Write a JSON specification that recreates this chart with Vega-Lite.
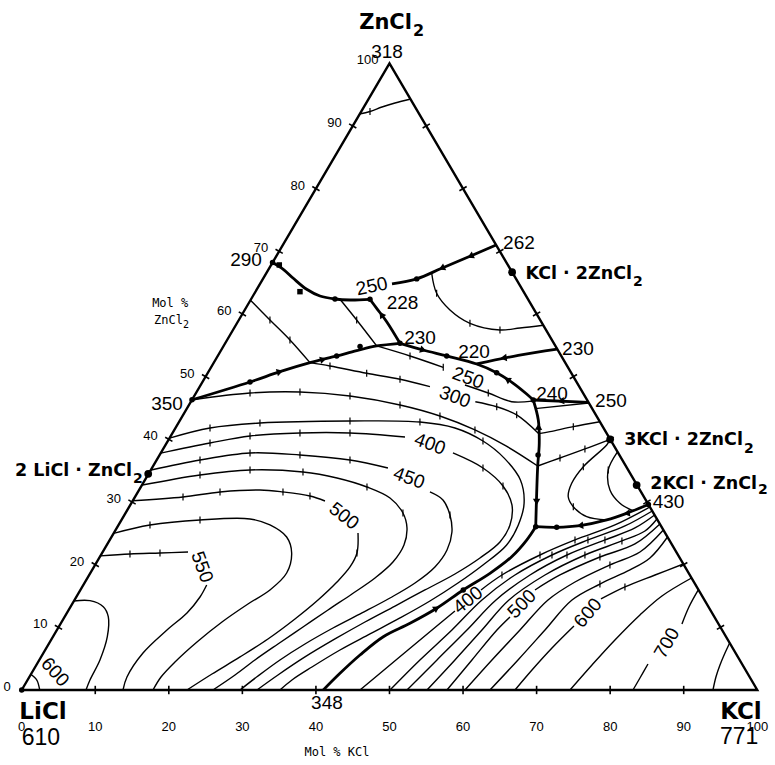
{
  "$schema": "https://vega.github.io/schema/vega-lite/v6.json",
  "width": 775,
  "height": 765,
  "autosize": {"type": "fit", "contains": "padding"},
  "padding": 0,
  "background": "white",
  "config": {"view": {"stroke": null}},
  "datasets": {
    "curves": [
      {"c":"frame","k":"edge","u":0,"z":0},{"c":"frame","k":"edge","u":100,"z":0},{"c":"frame","k":"edge","u":50,"z":100},{"c":"frame","k":"edge","u":0,"z":0},

      {"c":"arcTop","k":"iso","u":45.9,"z":91.9},{"c":"arcTop","k":"iso","u":47.35,"z":92.31},{"c":"arcTop","k":"iso","u":48.98,"z":93.03},{"c":"arcTop","k":"iso","u":50.75,"z":93.67},{"c":"arcTop","k":"iso","u":52.9,"z":94.3},

      {"c":"B1","k":"bd","u":34.1,"z":68.2},{"c":"B1","k":"bd","u":35.56,"z":67.13},{"c":"B1","k":"bd","u":36.92,"z":65.69},{"c":"B1","k":"bd","u":38.74,"z":63.94},{"c":"B1","k":"bd","u":40.55,"z":62.87},{"c":"B1","k":"bd","u":42.59,"z":62.39},{"c":"B1","k":"bd","u":44.63,"z":62.23},{"c":"B1","k":"bd","u":47.35,"z":62.34},
      {"c":"B2","k":"bd","u":50.34,"z":64.79},{"c":"B2","k":"bd","u":53.7,"z":65.6},{"c":"B2","k":"bd","u":57.1,"z":67.3},{"c":"B2","k":"bd","u":60.94,"z":69.2},{"c":"B2","k":"bd","u":64.5,"z":71.0},
      {"c":"B3","k":"bd","u":47.35,"z":62.34},{"c":"B3","k":"bd","u":48.26,"z":60.9},{"c":"B3","k":"bd","u":49.62,"z":58.77},{"c":"B3","k":"bd","u":51.43,"z":55.32},
      {"c":"B4","k":"bd","u":23.15,"z":46.3},{"c":"B4","k":"bd","u":31.04,"z":49.15},{"c":"B4","k":"bd","u":35.11,"z":50.79},{"c":"B4","k":"bd","u":39.19,"z":52.23},{"c":"B4","k":"bd","u":42.82,"z":53.3},{"c":"B4","k":"bd","u":45.54,"z":54.14},{"c":"B4","k":"bd","u":48.26,"z":54.89},{"c":"B4","k":"bd","u":51.43,"z":55.32},
      {"c":"B5","k":"bd","u":51.43,"z":55.32},{"c":"B5","k":"bd","u":54.6,"z":54.25},{"c":"B5","k":"bd","u":57.78,"z":53.3},{"c":"B5","k":"bd","u":61.85,"z":52.02},{"c":"B5","k":"bd","u":64.57,"z":50.63},{"c":"B5","k":"bd","u":66.83,"z":48.94},{"c":"B5","k":"bd","u":68.65,"z":47.23},{"c":"B5","k":"bd","u":69.55,"z":46.27},
      {"c":"B6","k":"bd","u":72.8,"z":54.4},{"c":"B6","k":"bd","u":67.5,"z":53.4},{"c":"B6","k":"bd","u":61.85,"z":52.02},
      {"c":"B7","k":"bd","u":69.55,"z":46.27},{"c":"B7","k":"bd","u":77.05,"z":45.9},
      {"c":"B8","k":"bd","u":69.55,"z":46.27},{"c":"B8","k":"bd","u":70.23,"z":43.08},{"c":"B8","k":"bd","u":70.36,"z":39.37},{"c":"B8","k":"bd","u":70.15,"z":35.74},{"c":"B8","k":"bd","u":70.01,"z":31.39},{"c":"B8","k":"bd","u":69.88,"z":26.06},
      {"c":"B9","k":"bd","u":69.88,"z":26.06},{"c":"B9","k":"bd","u":68.65,"z":23.93},{"c":"B9","k":"bd","u":66.61,"z":21.27},{"c":"B9","k":"bd","u":63.66,"z":18.62},{"c":"B9","k":"bd","u":60.03,"z":15.96},{"c":"B9","k":"bd","u":56.42,"z":13.04},{"c":"B9","k":"bd","u":52.79,"z":10.64},{"c":"B9","k":"bd","u":49.16,"z":8.5},{"c":"B9","k":"bd","u":45.99,"z":5.58},{"c":"B9","k":"bd","u":43.27,"z":2.66},{"c":"B9","k":"bd","u":41.0,"z":0},
      {"c":"B10","k":"bd","u":69.88,"z":26.06},{"c":"B10","k":"bd","u":72.73,"z":25.96},{"c":"B10","k":"bd","u":75.9,"z":26.22},{"c":"B10","k":"bd","u":79.53,"z":27.13},{"c":"B10","k":"bd","u":82.25,"z":28.2},{"c":"B10","k":"bd","u":85.2,"z":29.6},

      {"c":"B7b","k":"iso","u":69.8,"z":44.9},{"c":"B7b","k":"iso","u":77.1,"z":45.8},
      {"c":"T300a","k":"iso","u":31.1,"z":62.2},{"c":"T300a","k":"iso","u":33.75,"z":59.04},{"c":"T300a","k":"iso","u":36.47,"z":55.85},{"c":"T300a","k":"iso","u":39.19,"z":52.23},
      {"c":"T250a","k":"iso","u":43.27,"z":62.35},{"c":"T250a","k":"iso","u":45.54,"z":59.04},{"c":"T250a","k":"iso","u":48.26,"z":54.9},
      {"c":"T250b1","k":"iso","u":48.26,"z":54.9},{"c":"T250b1","k":"iso","u":52.79,"z":53.3},{"c":"T250b1","k":"iso","u":57.31,"z":51.49},
      {"c":"T250b2","k":"iso","u":60.26,"z":48.67},{"c":"T250b2","k":"iso","u":63.43,"z":47.39},{"c":"T250b2","k":"iso","u":66.6,"z":46.0},{"c":"T250b2","k":"iso","u":69.4,"z":46.1},
      {"c":"T300b1","k":"iso","u":39.19,"z":52.23},{"c":"T300b1","k":"iso","u":41.91,"z":51.7},{"c":"T300b1","k":"iso","u":46.9,"z":50.54},{"c":"T300b1","k":"iso","u":51.43,"z":49.58},{"c":"T300b1","k":"iso","u":55.5,"z":48.4},
      {"c":"T300b2","k":"iso","u":61.67,"z":46.0},{"c":"T300b2","k":"iso","u":64.58,"z":45.2},{"c":"T300b2","k":"iso","u":67.29,"z":43.9},{"c":"T300b2","k":"iso","u":70.3,"z":40.9},
      {"c":"T300c","k":"iso","u":70.3,"z":40.9},{"c":"T300c","k":"iso","u":71.82,"z":41.22},{"c":"T300c","k":"iso","u":74.99,"z":42.02},{"c":"T300c","k":"iso","u":78.6,"z":42.8},
      {"c":"T350a","k":"iso","u":23.15,"z":46.3},{"c":"T350a","k":"iso","u":31.04,"z":47.39},{"c":"T350a","k":"iso","u":37.83,"z":47.55},{"c":"T350a","k":"iso","u":44.63,"z":46.91},{"c":"T350a","k":"iso","u":51.43,"z":45.48},{"c":"T350a","k":"iso","u":56.86,"z":43.72},{"c":"T350a","k":"iso","u":61.62,"z":41.49},{"c":"T350a","k":"iso","u":65.84,"z":38.94},{"c":"T350a","k":"iso","u":70.15,"z":35.74},
      {"c":"T350b","k":"iso","u":70.15,"z":35.74},{"c":"T350b","k":"iso","u":73.18,"z":37.02},{"c":"T350b","k":"iso","u":76.57,"z":38.46},{"c":"T350b","k":"iso","u":80.0,"z":40.0},

      {"c":"A","k":"iso","u":20.1,"z":40.2},{"c":"A","k":"iso","u":25.6,"z":41.81},{"c":"A","k":"iso","u":32.39,"z":42.6},{"c":"A","k":"iso","u":44.63,"z":42.92},{"c":"A","k":"iso","u":54.14,"z":42.76},{"c":"A","k":"iso","u":58.9,"z":41.81},{"c":"A","k":"iso","u":62.71,"z":39.73},{"c":"A","k":"iso","u":65.6,"z":37.0},{"c":"A","k":"iso","u":67.8,"z":33.5},{"c":"A","k":"iso","u":68.3,"z":29.8},{"c":"A","k":"iso","u":67.5,"z":26.3},{"c":"A","k":"iso","u":65.9,"z":23.1},{"c":"A","k":"iso","u":62.71,"z":19.95},{"c":"A","k":"iso","u":59.31,"z":17.07},{"c":"A","k":"iso","u":55.5,"z":14.2},{"c":"A","k":"iso","u":51.43,"z":11.49},{"c":"A","k":"iso","u":47.35,"z":8.94},{"c":"A","k":"iso","u":43.27,"z":6.38},{"c":"A","k":"iso","u":39.46,"z":3.67},{"c":"A","k":"iso","u":36.74,"z":1.6},{"c":"A","k":"iso","u":35.11,"z":0},

      {"c":"Ba","k":"iso","u":18.9,"z":37.8},{"c":"Ba","k":"iso","u":25.6,"z":39.41},{"c":"Ba","k":"iso","u":31.04,"z":40.53},{"c":"Ba","k":"iso","u":37.83,"z":41.01},{"c":"Ba","k":"iso","u":44.63,"z":41.01},{"c":"Ba","k":"iso","u":52.11,"z":40.37},
      {"c":"Bb","k":"iso","u":58.63,"z":37.82},{"c":"Bb","k":"iso","u":62.71,"z":35.42},{"c":"Bb","k":"iso","u":65.43,"z":32.55},{"c":"Bb","k":"iso","u":66.65,"z":29.52},{"c":"Bb","k":"iso","u":66.38,"z":26.33},{"c":"Bb","k":"iso","u":65.02,"z":23.62},{"c":"Bb","k":"iso","u":62.3,"z":21.06},{"c":"Bb","k":"iso","u":58.9,"z":18.51},{"c":"Bb","k":"iso","u":54.82,"z":15.96},{"c":"Bb","k":"iso","u":50.75,"z":13.4},{"c":"Bb","k":"iso","u":46.67,"z":10.85},{"c":"Bb","k":"iso","u":42.59,"z":8.14},{"c":"Bb","k":"iso","u":38.51,"z":5.27},{"c":"Bb","k":"iso","u":34.84,"z":2.39},{"c":"Bb","k":"iso","u":31.99,"z":0},

      {"c":"Ca","k":"iso","u":17.6,"z":35.1},{"c":"Ca","k":"iso","u":24.24,"z":36.7},{"c":"Ca","k":"iso","u":31.04,"z":37.82},{"c":"Ca","k":"iso","u":37.83,"z":37.5},{"c":"Ca","k":"iso","u":44.63,"z":36.7},{"c":"Ca","k":"iso","u":49.79,"z":35.42},
      {"c":"Cb","k":"iso","u":55.5,"z":31.6},{"c":"Cb","k":"iso","u":57.27,"z":30.32},{"c":"Cb","k":"iso","u":58.22,"z":27.92},{"c":"Cb","k":"iso","u":58.49,"z":25.21},{"c":"Cb","k":"iso","u":57.82,"z":22.34},{"c":"Cb","k":"iso","u":56.18,"z":19.63},{"c":"Cb","k":"iso","u":53.47,"z":17.07},{"c":"Cb","k":"iso","u":50.07,"z":14.68},{"c":"Cb","k":"iso","u":46.26,"z":12.29},{"c":"Cb","k":"iso","u":42.32,"z":9.89},{"c":"Cb","k":"iso","u":38.51,"z":7.34},{"c":"Cb","k":"iso","u":35.11,"z":4.79},{"c":"Cb","k":"iso","u":32.12,"z":2.23},{"c":"Cb","k":"iso","u":29.68,"z":0},

      {"c":"D","k":"iso","u":16.4,"z":32.7},{"c":"D","k":"iso","u":24.24,"z":34.31},{"c":"D","k":"iso","u":31.04,"z":35.11},{"c":"D","k":"iso","u":38.24,"z":34.79},{"c":"D","k":"iso","u":42.86,"z":33.83},{"c":"D","k":"iso","u":46.94,"z":32.39},{"c":"D","k":"iso","u":50.07,"z":30.64},{"c":"D","k":"iso","u":51.83,"z":28.24},{"c":"D","k":"iso","u":52.38,"z":25.85},{"c":"D","k":"iso","u":51.97,"z":23.14},{"c":"D","k":"iso","u":50.47,"z":20.42},{"c":"D","k":"iso","u":48.03,"z":17.87},{"c":"D","k":"iso","u":44.9,"z":15.32},{"c":"D","k":"iso","u":41.64,"z":12.77},{"c":"D","k":"iso","u":38.24,"z":10.05},{"c":"D","k":"iso","u":34.84,"z":7.34},{"c":"D","k":"iso","u":31.71,"z":4.79},{"c":"D","k":"iso","u":29.0,"z":2.39},{"c":"D","k":"iso","u":26.0,"z":0},

      {"c":"Ea","k":"iso","u":15.1,"z":30.2},{"c":"Ea","k":"iso","u":21.93,"z":30.8},{"c":"Ea","k":"iso","u":26.96,"z":31.6},{"c":"Ea","k":"iso","u":32.39,"z":31.91},{"c":"Ea","k":"iso","u":35.52,"z":31.6},{"c":"Ea","k":"iso","u":39.19,"z":30.96},{"c":"Ea","k":"iso","u":41.23,"z":30.16},
      {"c":"Eb","k":"iso","u":45.72,"z":25.05},{"c":"Eb","k":"iso","u":45.58,"z":21.86},{"c":"Eb","k":"iso","u":44.63,"z":19.63},{"c":"Eb","k":"iso","u":42.86,"z":17.23},{"c":"Eb","k":"iso","u":40.28,"z":14.36},{"c":"Eb","k":"iso","u":37.15,"z":11.33},{"c":"Eb","k":"iso","u":33.48,"z":8.14},{"c":"Eb","k":"iso","u":29.68,"z":5.27},{"c":"Eb","k":"iso","u":25.87,"z":2.55},{"c":"Eb","k":"iso","u":22.47,"z":0},

      {"c":"F","k":"iso","u":12.5,"z":25.0},{"c":"F","k":"iso","u":17.44,"z":26.33},{"c":"F","k":"iso","u":24.24,"z":27.13},{"c":"F","k":"iso","u":31.04,"z":27.29},{"c":"F","k":"iso","u":33.75,"z":26.33},{"c":"F","k":"iso","u":36.02,"z":24.41},{"c":"F","k":"iso","u":36.7,"z":21.86},{"c":"F","k":"iso","u":36.02,"z":18.67},{"c":"F","k":"iso","u":33.75,"z":15.96},{"c":"F","k":"iso","u":30.76,"z":13.72},{"c":"F","k":"iso","u":27.23,"z":10.85},{"c":"F","k":"iso","u":23.83,"z":7.66},{"c":"F","k":"iso","u":20.84,"z":4.47},{"c":"F","k":"iso","u":18.94,"z":2.07},{"c":"F","k":"iso","u":17.85,"z":0},

      {"c":"Ga","k":"iso","u":10.7,"z":21.4},{"c":"Ga","k":"iso","u":14.72,"z":21.7},{"c":"Ga","k":"iso","u":18.8,"z":21.86},{"c":"Ga","k":"iso","u":22.61,"z":22.02},
      {"c":"Gb","k":"iso","u":25.15,"z":16.75},{"c":"Gb","k":"iso","u":24.24,"z":14.84},{"c":"Gb","k":"iso","u":22.47,"z":12.29},{"c":"Gb","k":"iso","u":19.75,"z":9.57},{"c":"Gb","k":"iso","u":16.49,"z":5.9},{"c":"Gb","k":"iso","u":14.31,"z":2.07},{"c":"Gb","k":"iso","u":13.77,"z":0},
      {"c":"H","k":"iso","u":7.1,"z":14.2},{"c":"H","k":"iso","u":9.28,"z":14.25},{"c":"H","k":"iso","u":11.09,"z":13.29},{"c":"H","k":"iso","u":11.77,"z":11.7},{"c":"H","k":"iso","u":11.64,"z":8.5},{"c":"H","k":"iso","u":10.64,"z":4.79},{"c":"H","k":"iso","u":9.28,"z":1.6},{"c":"H","k":"iso","u":8.74,"z":0},
      {"c":"Arc600","k":"iso","u":1.24,"z":2.49},{"c":"Arc600","k":"iso","u":1.73,"z":2.03},{"c":"Arc600","k":"iso","u":2.12,"z":1.44},{"c":"Arc600","k":"iso","u":2.45,"z":0},

      {"c":"KZ","k":"iso","u":55.74,"z":66.5},{"c":"KZ","k":"iso","u":56.41,"z":63.3},{"c":"KZ","k":"iso","u":58.22,"z":60.64},{"c":"KZ","k":"iso","u":60.94,"z":58.51},{"c":"KZ","k":"iso","u":65.02,"z":57.45},{"c":"KZ","k":"iso","u":67.74,"z":57.76},{"c":"KZ","k":"iso","u":70.9,"z":58.2},
      {"c":"U1","k":"iso","u":80.0,"z":40.0},{"c":"U1","k":"iso","u":79.53,"z":39.1},{"c":"U1","k":"iso","u":76.35,"z":35.63},{"c":"U1","k":"iso","u":74.77,"z":32.98},{"c":"U1","k":"iso","u":74.3,"z":30.84},{"c":"U1","k":"iso","u":74.99,"z":29.25},{"c":"U1","k":"iso","u":76.81,"z":27.65},{"c":"U1","k":"iso","u":79.53,"z":27.13},
      {"c":"U2","k":"iso","u":81.0,"z":38.0},{"c":"U2","k":"iso","u":79.74,"z":35.11},{"c":"U2","k":"iso","u":79.97,"z":31.91},{"c":"U2","k":"iso","u":81.33,"z":29.79},{"c":"U2","k":"iso","u":83.1,"z":28.6},

      {"c":"K1a","k":"iso","u":45.99,"z":0},{"c":"K1a","k":"iso","u":50.88,"z":4.79},{"c":"K1a","k":"iso","u":55.78,"z":9.57},{"c":"K1a","k":"iso","u":58.9,"z":12.61},
      {"c":"K1b","k":"iso","u":62.44,"z":15.96},{"c":"K1b","k":"iso","u":65.29,"z":18.35},{"c":"K1b","k":"iso","u":70.46,"z":21.54},{"c":"K1b","k":"iso","u":75.22,"z":23.94},{"c":"K1b","k":"iso","u":80.65,"z":26.33},{"c":"K1b","k":"iso","u":85.41,"z":29.2},
      {"c":"K2","k":"iso","u":50.07,"z":0},{"c":"K2","k":"iso","u":54.14,"z":4.79},{"c":"K2","k":"iso","u":58.49,"z":9.57},{"c":"K2","k":"iso","u":62.57,"z":14.36},{"c":"K2","k":"iso","u":67.06,"z":18.35},{"c":"K2","k":"iso","u":72.09,"z":21.54},{"c":"K2","k":"iso","u":76.98,"z":23.94},{"c":"K2","k":"iso","u":82.01,"z":26.17},{"c":"K2","k":"iso","u":85.72,"z":28.56},
      {"c":"K3","k":"iso","u":52.38,"z":0},{"c":"K3","k":"iso","u":56.46,"z":4.79},{"c":"K3","k":"iso","u":60.53,"z":9.57},{"c":"K3","k":"iso","u":64.48,"z":14.36},{"c":"K3","k":"iso","u":69.1,"z":18.35},{"c":"K3","k":"iso","u":74.13,"z":21.54},{"c":"K3","k":"iso","u":79.29,"z":23.94},{"c":"K3","k":"iso","u":83.37,"z":25.85},{"c":"K3","k":"iso","u":86.04,"z":27.92},
      {"c":"K4","k":"iso","u":55.1,"z":0},{"c":"K4","k":"iso","u":58.9,"z":4.79},{"c":"K4","k":"iso","u":62.57,"z":9.57},{"c":"K4","k":"iso","u":66.24,"z":14.36},{"c":"K4","k":"iso","u":71.14,"z":18.35},{"c":"K4","k":"iso","u":76.57,"z":21.54},{"c":"K4","k":"iso","u":81.6,"z":23.78},{"c":"K4","k":"iso","u":84.73,"z":25.37},{"c":"K4","k":"iso","u":86.36,"z":27.29},
      {"c":"K5a","k":"iso","u":57.81,"z":0},{"c":"K5a","k":"iso","u":61.21,"z":4.79},{"c":"K5a","k":"iso","u":64.61,"z":9.57},{"c":"K5a","k":"iso","u":66.38,"z":11.65},
      {"c":"K5b","k":"iso","u":69.78,"z":15.96},{"c":"K5b","k":"iso","u":73.18,"z":18.35},{"c":"K5b","k":"iso","u":78.61,"z":21.22},{"c":"K5b","k":"iso","u":83.37,"z":23.3},{"c":"K5b","k":"iso","u":86.76,"z":26.49},
      {"c":"K6","k":"iso","u":60.26,"z":0},{"c":"K6","k":"iso","u":63.93,"z":4.79},{"c":"K6","k":"iso","u":67.74,"z":9.57},{"c":"K6","k":"iso","u":71.55,"z":14.36},{"c":"K6","k":"iso","u":75.22,"z":17.23},{"c":"K6","k":"iso","u":79.97,"z":19.95},{"c":"K6","k":"iso","u":84.05,"z":22.02},{"c":"K6","k":"iso","u":87.23,"z":25.53},
      {"c":"K7","k":"iso","u":63.66,"z":0},{"c":"K7","k":"iso","u":67.47,"z":4.79},{"c":"K7","k":"iso","u":71.14,"z":9.57},{"c":"K7","k":"iso","u":74.81,"z":14.36},{"c":"K7","k":"iso","u":78.61,"z":16.91},{"c":"K7","k":"iso","u":82.69,"z":19.15},{"c":"K7","k":"iso","u":85.41,"z":21.06},{"c":"K7","k":"iso","u":87.8,"z":24.41},
      {"c":"K8a","k":"iso","u":67.06,"z":0},{"c":"K8a","k":"iso","u":69.37,"z":3.19},{"c":"K8a","k":"iso","u":72.09,"z":6.7},{"c":"K8a","k":"iso","u":75.08,"z":10.21},
      {"c":"K8b","k":"iso","u":78.75,"z":14.52},{"c":"K8b","k":"iso","u":82.01,"z":16.44},{"c":"K8b","k":"iso","u":86.1,"z":18.35},{"c":"K8b","k":"iso","u":89.95,"z":20.1},
      {"c":"K9","k":"iso","u":74.54,"z":0},{"c":"K9","k":"iso","u":77.53,"z":3.99},{"c":"K9","k":"iso","u":80.65,"z":7.98},{"c":"K9","k":"iso","u":84.05,"z":11.97},{"c":"K9","k":"iso","u":87.04,"z":15.0},{"c":"K9","k":"iso","u":91.06,"z":17.87},
      {"c":"K10a","k":"iso","u":83.1,"z":0},{"c":"K10a","k":"iso","u":84.05,"z":1.91},{"c":"K10a","k":"iso","u":85.14,"z":4.15},
      {"c":"K10b","k":"iso","u":89.76,"z":10.53},{"c":"K10b","k":"iso","u":90.71,"z":13.24},{"c":"K10b","k":"iso","u":92.0,"z":16.0},
      {"c":"K11","k":"iso","u":93.98,"z":0},{"c":"K11","k":"iso","u":94.38,"z":2.07},{"c":"K11","k":"iso","u":94.93,"z":3.99},{"c":"K11","k":"iso","u":95.61,"z":5.9},{"c":"K11","k":"iso","u":96.25,"z":7.5}
    ],
    "edgeTicks": [
      {"e":"b","u":10,"z":0},{"e":"b","u":20,"z":0},{"e":"b","u":30,"z":0},{"e":"b","u":40,"z":0},{"e":"b","u":50,"z":0},{"e":"b","u":60,"z":0},{"e":"b","u":70,"z":0},{"e":"b","u":80,"z":0},{"e":"b","u":90,"z":0},
      {"e":"l","u":5,"z":10},{"e":"l","u":10,"z":20},{"e":"l","u":15,"z":30},{"e":"l","u":20,"z":40},{"e":"l","u":25,"z":50},{"e":"l","u":30,"z":60},{"e":"l","u":35,"z":70},{"e":"l","u":40,"z":80},{"e":"l","u":45,"z":90},
      {"e":"r","u":95,"z":10},{"e":"r","u":90,"z":20},{"e":"r","u":85,"z":30},{"e":"r","u":80,"z":40},{"e":"r","u":75,"z":50},{"e":"r","u":70,"z":60},{"e":"r","u":65,"z":70},{"e":"r","u":60,"z":80},{"e":"r","u":55,"z":90}
    ],
    "curveTicks": [
      {"u":33.75,"z":59.04},{"u":36.47,"z":55.85},{"u":45.54,"z":59.04},{"u":52.79,"z":53.3},{"u":57.31,"z":51.49},{"u":63.43,"z":47.39},
      {"u":41.91,"z":51.7},{"u":46.9,"z":50.54},{"u":51.43,"z":49.58},{"u":64.58,"z":45.2},{"u":67.29,"z":43.9},{"u":74.99,"z":42.02},
      {"u":31.04,"z":47.39},{"u":37.83,"z":47.55},{"u":44.63,"z":46.91},{"u":51.43,"z":45.48},{"u":56.86,"z":43.72},{"u":61.62,"z":41.49},{"u":73.18,"z":37.02},{"u":76.57,"z":38.46},
      {"u":25.6,"z":41.81},{"u":32.39,"z":42.6},{"u":44.63,"z":42.92},{"u":54.14,"z":42.76},{"u":62.71,"z":39.73},
      {"u":25.6,"z":39.41},{"u":31.04,"z":40.53},{"u":37.83,"z":41.01},{"u":44.63,"z":41.01},{"u":62.71,"z":35.42},{"u":65.43,"z":32.55},
      {"u":24.24,"z":36.7},{"u":31.04,"z":37.82},{"u":37.83,"z":37.5},{"u":44.63,"z":36.7},{"u":58.22,"z":27.92},
      {"u":24.24,"z":34.31},{"u":31.04,"z":35.11},{"u":38.24,"z":34.79},{"u":46.94,"z":32.39},{"u":51.83,"z":28.24},
      {"u":21.93,"z":30.8},{"u":26.96,"z":31.6},{"u":35.52,"z":31.6},{"u":39.19,"z":30.96},{"u":45.58,"z":21.86},
      {"u":17.44,"z":26.33},{"u":24.24,"z":27.13},{"u":14.72,"z":21.7},{"u":18.8,"z":21.86},
      {"u":56.41,"z":63.3},{"u":60.94,"z":58.51},{"u":65.02,"z":57.45},
      {"u":76.35,"z":35.63},{"u":74.99,"z":29.25},{"u":79.74,"z":35.11},
      {"u":65.29,"z":18.35},{"u":70.46,"z":21.54},{"u":75.22,"z":23.94},{"u":72.09,"z":21.54},{"u":76.98,"z":23.94},{"u":74.13,"z":21.54},{"u":79.29,"z":23.94},{"u":76.57,"z":21.54},{"u":81.6,"z":23.78},{"u":78.61,"z":21.22},{"u":79.97,"z":19.95},{"u":78.61,"z":16.91},{"u":82.01,"z":16.44},
      {"u":47.35,"z":92.31}
    ],
    "dots": [
      {"k":"big","u":17.2,"z":34.5},{"k":"big","u":66.67,"z":66.67},{"k":"big","u":80,"z":40},{"k":"big","u":83.6,"z":32.7},
      {"k":"small","u":34.1,"z":68.2},{"k":"small","u":47.35,"z":62.34},{"k":"small","u":23.15,"z":46.3},{"k":"small","u":51.43,"z":55.32},{"k":"small","u":57.78,"z":53.3},{"k":"small","u":69.55,"z":46.27},{"k":"small","u":69.88,"z":26.06},{"k":"small","u":85.2,"z":29.6},{"k":"small","u":60.03,"z":15.96},{"k":"small","u":0,"z":0},{"k":"small","u":42.59,"z":62.39},{"k":"small","u":31.04,"z":49.15},{"k":"small","u":42.82,"z":53.3},{"k":"small","u":64.57,"z":50.63},{"k":"small","u":70.2,"z":37.5},{"k":"small","u":72.73,"z":25.96},{"k":"small","u":53.7,"z":65.6},{"k":"small","u":46.0,"z":54.8},
      {"k":"sq","u":35.02,"z":67.82},{"k":"sq","u":37.83,"z":63.56}
    ],
    "arrows": [
      {"id":"a1","u":57.1,"z":67.3},{"id":"a2","u":61.0,"z":69.2},{"id":"a3","u":48.9,"z":59.9},{"id":"a4","u":41.0,"z":52.76},{"id":"a5","u":35.11,"z":50.79},{"id":"a6","u":54.6,"z":54.25},{"id":"a7","u":66.0,"z":49.56},{"id":"a8","u":65.5,"z":53.0},{"id":"a9","u":73.3,"z":46.1},{"id":"a10","u":70.27,"z":42.0},{"id":"a11","u":70.0,"z":30.0},{"id":"a12","u":56.42,"z":13.04},{"id":"a13","u":75.9,"z":26.22},{"id":"a14","u":82.25,"z":28.2}
    ],
    "labels": [
      {"k":"title","u":53.06,"z":106.45,"t":"ZnCl"},
      {"k":"titleSub","u":53.06,"z":105.16,"t":"2"},
      {"k":"corner","u":2.9,"z":-3.51,"t":"LiCl"},{"k":"corner","u":97.78,"z":-3.51,"t":"KCl"},
      {"k":"cornerT","u":2.62,"z":-7.66,"t":"610"},{"k":"cornerT","u":97.53,"z":-7.5,"t":"771"},
      {"k":"temp","u":49.66,"z":101.8,"t":"318"},{"k":"temp","u":41.5,"z":-2.07,"t":"348"},
      {"k":"temp","u":67.6,"z":71.33,"t":"262"},{"k":"temp","u":51.77,"z":61.68,"t":"228"},{"k":"temp","u":54.15,"z":56.17,"t":"230"},{"k":"temp","u":61.49,"z":53.93,"t":"220"},{"k":"temp","u":75.62,"z":54.41,"t":"230"},{"k":"temp","u":72.09,"z":47.23,"t":"240"},{"k":"temp","u":80.11,"z":46.12,"t":"250"},{"k":"temp","u":87.93,"z":29.92,"t":"430"},{"k":"temp","u":30.49,"z":68.62,"t":"290"},{"k":"temp","u":19.75,"z":45.64,"t":"350"},
      {"k":"cmp","u":82.97,"z":66.38,"t":"KCl · 2ZnCl"},{"k":"cmpSub","u":82.97,"z":65.11,"t":"2"},
      {"k":"cmp","u":98.05,"z":39.89,"t":"3KCl · 2ZnCl"},{"k":"cmpSub","u":98.05,"z":38.46,"t":"2"},
      {"k":"cmp","u":99.96,"z":32.87,"t":"2KCl · ZnCl"},{"k":"cmpSub","u":99.96,"z":31.91,"t":"2"},
      {"k":"cmp","u":15.01,"z":34.87,"t":"2 LiCl · ZnCl"},{"k":"cmpSub","u":15.01,"z":33.67,"t":"2"},
      {"k":"mol","u":20.19,"z":61.75,"t":"Mol %"},{"k":"mol","u":42.86,"z":-9.89,"t":"Mol % KCl"},
      {"k":"molR","u":21.93,"z":59.04,"t":"ZnCl"},{"k":"molSub","u":21.93,"z":58.24,"t":"2"},
      {"k":"tb","u":0,"z":0,"t":"0"},{"k":"tb","u":10,"z":0,"t":"10"},{"k":"tb","u":20,"z":0,"t":"20"},{"k":"tb","u":30,"z":0,"t":"30"},{"k":"tb","u":40,"z":0,"t":"40"},{"k":"tb","u":50,"z":0,"t":"50"},{"k":"tb","u":60,"z":0,"t":"60"},{"k":"tb","u":70,"z":0,"t":"70"},{"k":"tb","u":80,"z":0,"t":"80"},{"k":"tb","u":90,"z":0,"t":"90"},{"k":"tb","u":100,"z":0,"t":"100"},
      {"k":"tl","u":0,"z":0,"t":"0"},{"k":"tl","u":5,"z":10,"t":"10"},{"k":"tl","u":10,"z":20,"t":"20"},{"k":"tl","u":15,"z":30,"t":"30"},{"k":"tl","u":20,"z":40,"t":"40"},{"k":"tl","u":25,"z":50,"t":"50"},{"k":"tl","u":30,"z":60,"t":"60"},{"k":"tl","u":35,"z":70,"t":"70"},{"k":"tl","u":40,"z":80,"t":"80"},{"k":"tl","u":45,"z":90,"t":"90"},{"k":"tl","u":50,"z":100,"t":"100"}
    ],
    "isoLabels": [
      {"id":"i250b","u":47.6,"z":64.4,"t":"250"},
      {"id":"i250","u":60.67,"z":49.79,"t":"250"},
      {"id":"i300","u":58.9,"z":46.75,"t":"300"},
      {"id":"i400","u":55.5,"z":39.25,"t":"400"},
      {"id":"i450","u":52.65,"z":33.83,"t":"450"},
      {"id":"i500","u":43.81,"z":27.77,"t":"500"},
      {"id":"i550","u":24.51,"z":19.63,"t":"550"},
      {"id":"i600","u":4.53,"z":2.87,"t":"600"},
      {"id":"k400","u":60.67,"z":14.36,"t":"400"},
      {"id":"k500","u":68.0,"z":13.72,"t":"500"},
      {"id":"k600","u":76.98,"z":12.29,"t":"600"},
      {"id":"k700","u":87.72,"z":7.5,"t":"700"}
    ]
  },
  "encoding": {
    "x": {"field": "u", "type": "quantitative", "scale": {"domain": [-2.95, 102.41], "nice": false, "zero": false}, "axis": null},
    "y": {"field": "z", "type": "quantitative", "scale": {"domain": [-11.97, 110.1], "nice": false, "zero": false}, "axis": null}
  },
  "layer": [
    {
      "data": {"name": "curves"},
      "transform": [{"filter": "datum.k === 'iso'"}, {"window": [{"op": "row_number", "as": "i"}], "groupby": ["c"]}],
      "mark": {"type": "line", "interpolate": "catmull-rom", "stroke": "black", "strokeWidth": 1.4},
      "encoding": {"detail": {"field": "c"}, "order": {"field": "i", "type": "quantitative"}}
    },
    {
      "data": {"name": "curves"},
      "transform": [{"filter": "datum.k === 'bd'"}, {"window": [{"op": "row_number", "as": "i"}], "groupby": ["c"]}],
      "mark": {"type": "line", "interpolate": "catmull-rom", "stroke": "black", "strokeWidth": 2.8},
      "encoding": {"detail": {"field": "c"}, "order": {"field": "i", "type": "quantitative"}}
    },
    {
      "data": {"name": "curves"},
      "transform": [{"filter": "datum.k === 'edge'"}, {"window": [{"op": "row_number", "as": "i"}], "groupby": ["c"]}],
      "mark": {"type": "line", "stroke": "black", "strokeWidth": 2.4, "strokeJoin": "miter"},
      "encoding": {"detail": {"field": "c"}, "order": {"field": "i", "type": "quantitative"}}
    },
    {"data": {"name": "edgeTicks"}, "transform": [{"filter": "datum.e === 'b'"}],
     "mark": {"type": "point", "shape": "stroke", "size": 70, "angle": 90, "stroke": "black", "strokeWidth": 1.6, "opacity": 1}},
    {"data": {"name": "edgeTicks"}, "transform": [{"filter": "datum.e === 'l'"}],
     "mark": {"type": "point", "shape": "stroke", "size": 70, "angle": 30, "stroke": "black", "strokeWidth": 1.6, "opacity": 1}},
    {"data": {"name": "edgeTicks"}, "transform": [{"filter": "datum.e === 'r'"}],
     "mark": {"type": "point", "shape": "stroke", "size": 70, "angle": -30, "stroke": "black", "strokeWidth": 1.6, "opacity": 1}},
    {"data": {"name": "curveTicks"},
     "mark": {"type": "point", "shape": "stroke", "size": 49, "angle": 90, "stroke": "black", "strokeWidth": 1.2, "opacity": 1}},
    {"data": {"name": "dots"}, "transform": [{"filter": "datum.k === 'big'"}],
     "mark": {"type": "point", "shape": "circle", "filled": true, "size": 60, "color": "black", "opacity": 1}},
    {"data": {"name": "dots"}, "transform": [{"filter": "datum.k === 'small'"}],
     "mark": {"type": "point", "shape": "circle", "filled": true, "size": 30, "color": "black", "opacity": 1}},
    {"data": {"name": "dots"}, "transform": [{"filter": "datum.k === 'sq'"}],
     "mark": {"type": "point", "shape": "square", "filled": true, "size": 30, "color": "black", "opacity": 1}},

    {"data": {"name": "arrows"}, "transform": [{"filter": "indexof(['a1','a2'], datum.id) >= 0"}],
     "mark": {"type": "point", "shape": "triangle-right", "filled": true, "size": 55, "color": "black", "opacity": 1, "angle": 155}},
    {"data": {"name": "arrows"}, "transform": [{"filter": "datum.id === 'a3'"}],
     "mark": {"type": "point", "shape": "triangle-right", "filled": true, "size": 55, "color": "black", "opacity": 1, "angle": 235}},
    {"data": {"name": "arrows"}, "transform": [{"filter": "indexof(['a4','a5'], datum.id) >= 0"}],
     "mark": {"type": "point", "shape": "triangle-right", "filled": true, "size": 55, "color": "black", "opacity": 1, "angle": 344}},
    {"data": {"name": "arrows"}, "transform": [{"filter": "datum.id === 'a6'"}],
     "mark": {"type": "point", "shape": "triangle-right", "filled": true, "size": 55, "color": "black", "opacity": 1, "angle": 16}},
    {"data": {"name": "arrows"}, "transform": [{"filter": "datum.id === 'a7'"}],
     "mark": {"type": "point", "shape": "triangle-right", "filled": true, "size": 55, "color": "black", "opacity": 1, "angle": 213}},
    {"data": {"name": "arrows"}, "transform": [{"filter": "indexof(['a8','a9','a13','a14'], datum.id) >= 0"}],
     "mark": {"type": "point", "shape": "triangle-right", "filled": true, "size": 55, "color": "black", "opacity": 1, "angle": 173}},
    {"data": {"name": "arrows"}, "transform": [{"filter": "datum.id === 'a10'"}],
     "mark": {"type": "point", "shape": "triangle-right", "filled": true, "size": 55, "color": "black", "opacity": 1, "angle": 272}},
    {"data": {"name": "arrows"}, "transform": [{"filter": "datum.id === 'a11'"}],
     "mark": {"type": "point", "shape": "triangle-right", "filled": true, "size": 55, "color": "black", "opacity": 1, "angle": 90}},
    {"data": {"name": "arrows"}, "transform": [{"filter": "datum.id === 'a12'"}],
     "mark": {"type": "point", "shape": "triangle-right", "filled": true, "size": 55, "color": "black", "opacity": 1, "angle": 328}},

    {"data": {"name": "labels"}, "transform": [{"filter": "datum.k === 'title'"}],
     "mark": {"type": "text", "font": "DejaVu Sans", "fontSize": 21, "fontWeight": "bold", "baseline": "middle", "align": "right"},
     "encoding": {"text": {"field": "t"}}},
    {"data": {"name": "labels"}, "transform": [{"filter": "datum.k === 'titleSub'"}],
     "mark": {"type": "text", "font": "DejaVu Sans", "fontSize": 16, "fontWeight": "bold", "baseline": "middle", "align": "left", "dx": 1},
     "encoding": {"text": {"field": "t"}}},
    {"data": {"name": "labels"}, "transform": [{"filter": "datum.k === 'corner'"}],
     "mark": {"type": "text", "font": "DejaVu Sans", "fontSize": 23, "fontWeight": "bold", "baseline": "middle", "align": "center"},
     "encoding": {"text": {"field": "t"}}},
    {"data": {"name": "labels"}, "transform": [{"filter": "datum.k === 'cornerT'"}],
     "mark": {"type": "text", "font": "Liberation Sans", "fontSize": 23, "baseline": "middle", "align": "center"},
     "encoding": {"text": {"field": "t"}}},
    {"data": {"name": "labels"}, "transform": [{"filter": "datum.k === 'temp'"}],
     "mark": {"type": "text", "font": "Liberation Sans", "fontSize": 19, "baseline": "middle", "align": "center"},
     "encoding": {"text": {"field": "t"}}},
    {"data": {"name": "labels"}, "transform": [{"filter": "datum.k === 'cmp'"}],
     "mark": {"type": "text", "font": "DejaVu Sans", "fontSize": 17.5, "fontWeight": "bold", "baseline": "middle", "align": "right"},
     "encoding": {"text": {"field": "t"}}},
    {"data": {"name": "labels"}, "transform": [{"filter": "datum.k === 'cmpSub'"}],
     "mark": {"type": "text", "font": "DejaVu Sans", "fontSize": 14, "fontWeight": "bold", "baseline": "middle", "align": "left", "dx": 1},
     "encoding": {"text": {"field": "t"}}},
    {"data": {"name": "labels"}, "transform": [{"filter": "datum.k === 'mol'"}],
     "mark": {"type": "text", "font": "DejaVu Sans Mono", "fontSize": 12, "baseline": "middle", "align": "center"},
     "encoding": {"text": {"field": "t"}}},
    {"data": {"name": "labels"}, "transform": [{"filter": "datum.k === 'molR'"}],
     "mark": {"type": "text", "font": "DejaVu Sans Mono", "fontSize": 12, "baseline": "middle", "align": "right"},
     "encoding": {"text": {"field": "t"}}},
    {"data": {"name": "labels"}, "transform": [{"filter": "datum.k === 'molSub'"}],
     "mark": {"type": "text", "font": "DejaVu Sans Mono", "fontSize": 10, "baseline": "middle", "align": "left"},
     "encoding": {"text": {"field": "t"}}},
    {"data": {"name": "labels"}, "transform": [{"filter": "datum.k === 'tb'"}],
     "mark": {"type": "text", "font": "Liberation Sans", "fontSize": 13, "baseline": "middle", "align": "center", "dy": 37},
     "encoding": {"text": {"field": "t"}}},
    {"data": {"name": "labels"}, "transform": [{"filter": "datum.k === 'tl'"}],
     "mark": {"type": "text", "font": "Liberation Sans", "fontSize": 13, "baseline": "middle", "align": "right", "dx": -11, "dy": -3},
     "encoding": {"text": {"field": "t"}}},

    {"data": {"name": "isoLabels"}, "transform": [{"filter": "datum.id === 'i250b'"}],
     "mark": {"type": "text", "font": "Liberation Sans", "fontSize": 19, "baseline": "middle", "align": "center", "angle": -12},
     "encoding": {"text": {"field": "t"}}},
    {"data": {"name": "isoLabels"}, "transform": [{"filter": "indexof(['i250','i300','i400','i450'], datum.id) >= 0"}],
     "mark": {"type": "text", "font": "Liberation Sans", "fontSize": 19, "baseline": "middle", "align": "center", "angle": 20},
     "encoding": {"text": {"field": "t"}}},
    {"data": {"name": "isoLabels"}, "transform": [{"filter": "datum.id === 'i500'"}],
     "mark": {"type": "text", "font": "Liberation Sans", "fontSize": 19, "baseline": "middle", "align": "center", "angle": 38},
     "encoding": {"text": {"field": "t"}}},
    {"data": {"name": "isoLabels"}, "transform": [{"filter": "datum.id === 'i550'"}],
     "mark": {"type": "text", "font": "Liberation Sans", "fontSize": 19, "baseline": "middle", "align": "center", "angle": 70},
     "encoding": {"text": {"field": "t"}}},
    {"data": {"name": "isoLabels"}, "transform": [{"filter": "datum.id === 'i600'"}],
     "mark": {"type": "text", "font": "Liberation Sans", "fontSize": 19, "baseline": "middle", "align": "center", "angle": 48},
     "encoding": {"text": {"field": "t"}}},
    {"data": {"name": "isoLabels"}, "transform": [{"filter": "datum.id === 'k400'"}],
     "mark": {"type": "text", "font": "Liberation Sans", "fontSize": 19, "baseline": "middle", "align": "center", "angle": -38},
     "encoding": {"text": {"field": "t"}}},
    {"data": {"name": "isoLabels"}, "transform": [{"filter": "datum.id === 'k500'"}],
     "mark": {"type": "text", "font": "Liberation Sans", "fontSize": 19, "baseline": "middle", "align": "center", "angle": -45},
     "encoding": {"text": {"field": "t"}}},
    {"data": {"name": "isoLabels"}, "transform": [{"filter": "datum.id === 'k600'"}],
     "mark": {"type": "text", "font": "Liberation Sans", "fontSize": 19, "baseline": "middle", "align": "center", "angle": -50},
     "encoding": {"text": {"field": "t"}}},
    {"data": {"name": "isoLabels"}, "transform": [{"filter": "datum.id === 'k700'"}],
     "mark": {"type": "text", "font": "Liberation Sans", "fontSize": 19, "baseline": "middle", "align": "center", "angle": -60},
     "encoding": {"text": {"field": "t"}}}
  ]
}
